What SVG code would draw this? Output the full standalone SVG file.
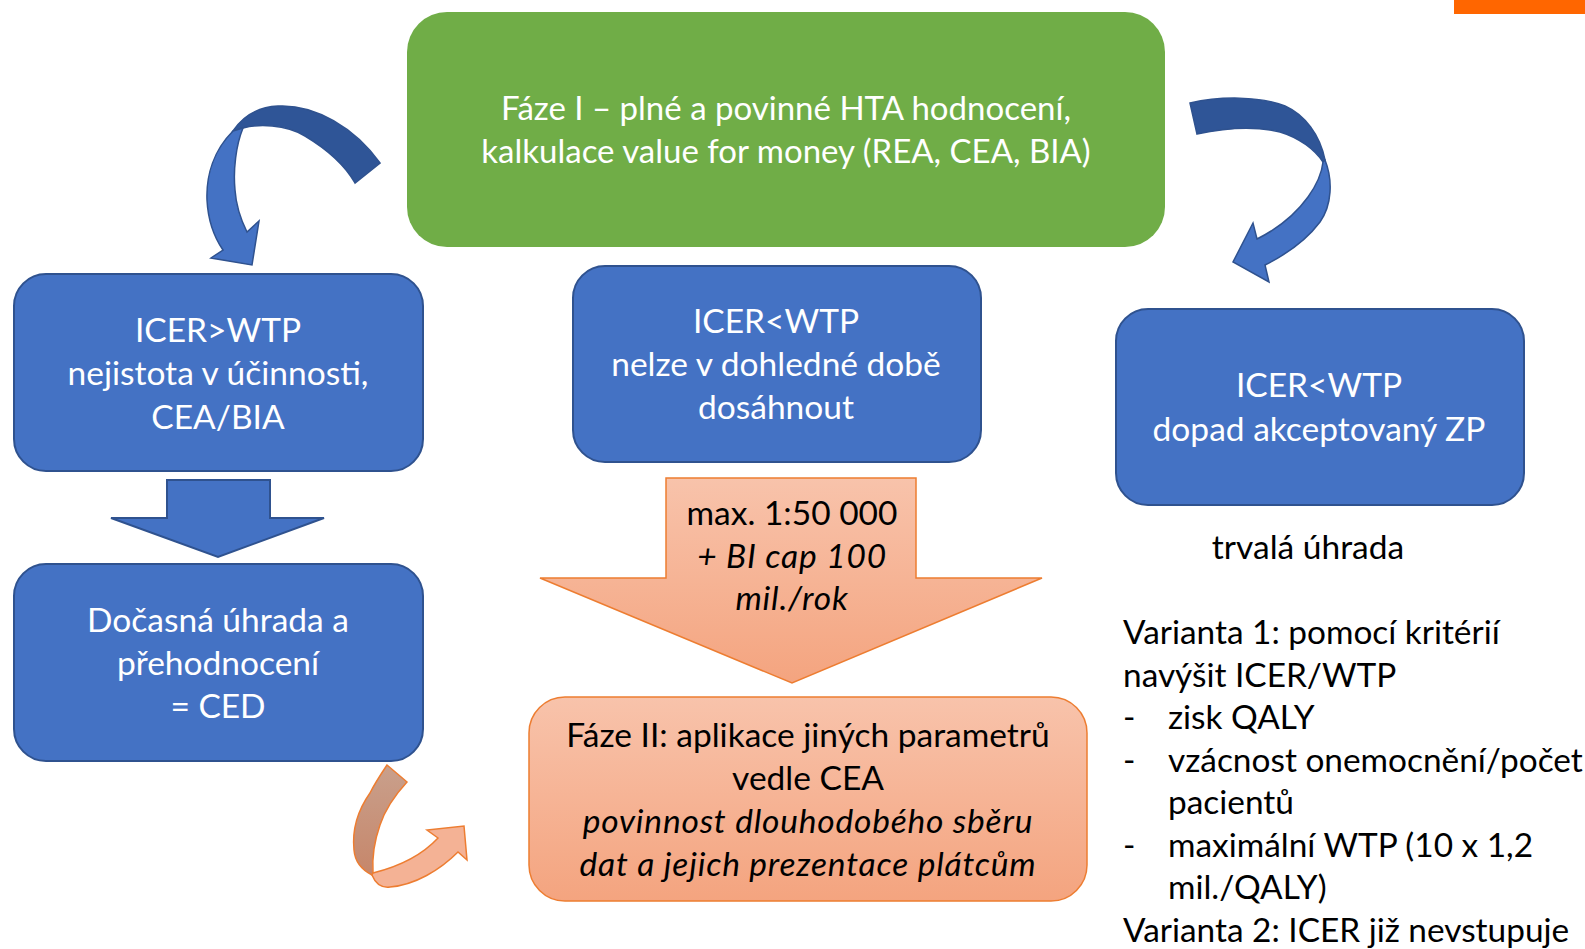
<svg xmlns="http://www.w3.org/2000/svg" width="1585" height="949" viewBox="0 0 1585 949">
<defs>
<style>
.t{font-family:Lato,"Liberation Sans",sans-serif;font-size:33.5px;text-anchor:middle}
.g{font-size:33px}
.w{fill:#ffffff}
.k{fill:#000000}
.i{font-style:italic;letter-spacing:0.8px}
.blue{fill:#4472C4;stroke:#2F528F;stroke-width:2}
.bdark{fill:#2F5597;stroke:#2F528F;stroke-width:1.5}
.blight{fill:#4472C4;stroke:#2F528F;stroke-width:1.5}
.orange{fill:url(#og);stroke:#ED7D31;stroke-width:1.5}
.list{font-family:Lato,"Liberation Sans",sans-serif;font-size:33.4px;fill:#000000}
</style>
<linearGradient id="og" x1="0" y1="0" x2="0" y2="1">
<stop offset="0" stop-color="#F8C3AB"/>
<stop offset="1" stop-color="#F4A47F"/>
</linearGradient>
<linearGradient id="ogd" x1="0" y1="0" x2="0" y2="1">
<stop offset="0" stop-color="#C9A08C"/>
<stop offset="1" stop-color="#C6866A"/>
</linearGradient>
</defs>
<rect x="1454" y="0" width="131" height="14" fill="#FF6600"/>

<g id="phase1">
<rect x="407" y="12" width="758" height="235" rx="40" fill="#70AD47"/>
<text class="t g w" x="786" y="120">Fáze I – plné a povinné HTA hodnocení,</text>
<text class="t g w" x="786" y="163">kalkulace value for money (REA, CEA, BIA)</text>
</g>

<g id="icer-gt">
<rect class="blue" x="14" y="274" width="409" height="197" rx="32"/>
<text class="t w" x="218" y="342">ICER&gt;WTP</text>
<text class="t w" x="218" y="385">nejistota v účinnosti,</text>
<text class="t w" x="218" y="429">CEA/BIA</text>
</g>

<g id="icer-lt-mid">
<rect class="blue" x="573" y="266" width="408" height="196" rx="32"/>
<text class="t w" x="776" y="333">ICER&lt;WTP</text>
<text class="t w" x="776" y="376">nelze v dohledné době</text>
<text class="t w" x="776" y="419">dosáhnout</text>
</g>

<g id="icer-lt-right">
<rect class="blue" x="1116" y="309" width="408" height="196" rx="32"/>
<text class="t w" x="1319" y="397">ICER&lt;WTP</text>
<text class="t w" x="1319" y="441">dopad akceptovaný ZP</text>
</g>

<g id="ced">
<rect class="blue" x="14" y="564" width="409" height="197" rx="32"/>
<text class="t w" x="218" y="632">Dočasná úhrada a</text>
<text class="t w" x="218" y="675">přehodnocení</text>
<text class="t w" x="218" y="718">= CED</text>
</g>

<g id="phase2">
<rect class="orange" x="529" y="697" width="558" height="204" rx="36"/>
<text class="t k" x="808" y="747">Fáze II: aplikace jiných parametrů</text>
<text class="t k" x="808" y="790">vedle CEA</text>
<text class="t k i" x="808" y="833">povinnost dlouhodobého sběru</text>
<text class="t k i" x="808" y="876">dat a jejich prezentace plátcům</text>
</g>

<g id="cap-arrow">
<polygon class="orange" points="666,478 916,478 916,578 1042,578 792,683 540,578 666,578"/>
<text class="t k" x="792" y="525">max. 1:50 000</text>
<text class="t k i" x="792" y="568">+ BI cap 100</text>
<text class="t k i" x="792" y="610">mil./rok</text>
</g>

<g id="trvala">
<text class="t k" x="1308" y="559">trvalá úhrada</text>
</g>

<g id="varianty">
<text class="list" x="1123" y="644">Varianta 1: pomocí kritérií</text>
<text class="list" x="1123" y="687">navýšit ICER/WTP</text>
<text class="list" x="1123" y="729">-</text><text class="list" x="1168" y="729">zisk QALY</text>
<text class="list" x="1123" y="772">-</text><text class="list" x="1168" y="772">vzácnost onemocnění/počet</text>
<text class="list" x="1168" y="814">pacientů</text>
<text class="list" x="1123" y="857">-</text><text class="list" x="1168" y="857">maximální WTP (10 x 1,2</text>
<text class="list" x="1168" y="899">mil./QALY)</text>
<text class="list" x="1123" y="942">Varianta 2: ICER již nevstupuje</text>
</g>

<g id="connectors">
<polygon class="blue" points="167,480 270,480 270,518 324,518 218,557 111,518 167,518"/>
<path class="bdark" d="M380,163 C355,128 315,104 278,106 C258,107 243,116 233,131 L243,128 C258,124 285,124 305,136 C325,148 345,165 355,183 Z"/>
<path class="blight" d="M233,131 C214,150 206,175 207,200 C208,220 214,237 223,250 L211,258 L252,265 L259,221 L247,232 C240,218 236,205 235,190 C233,170 236,145 243,128 Z"/>
<path class="bdark" d="M1190,103 C1220,96 1260,96 1285,106 C1305,115 1320,135 1325,160 L1323,162 C1315,150 1300,138 1280,132 C1255,126 1225,128 1197,134 Z"/>
<path class="blight" d="M1325,160 C1333,180 1332,205 1320,222 C1305,242 1285,255 1265,265 L1269,282 L1233,262 L1253,223 L1257,239 C1275,230 1295,215 1308,197 C1318,183 1322,172 1323,162 Z"/>
<path d="M387,765 L407,782 C395,795 385,810 380,825 C374,842 372,858 373,873 L372,875 C362,870 355,862 354,850 C352,830 358,810 370,793 C375,783 381,774 387,765 Z" fill="url(#ogd)" stroke="#ED7D31" stroke-width="1.5"/>
<path d="M372,875 C376,885 382,888 390,887 C415,885 440,870 458,852 L467,860 L464,826 L427,830 L438,838 C425,852 405,865 373,873 Z" fill="#F4B295" stroke="#ED7D31" stroke-width="1.5"/>
</g>
</svg>
